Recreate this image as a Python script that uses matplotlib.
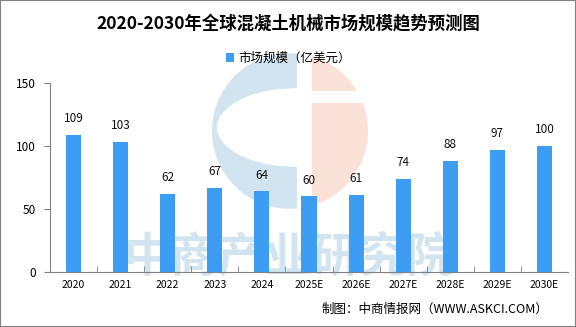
import matplotlib
matplotlib.use("Agg")
import matplotlib.pyplot as plt
from matplotlib.patches import Rectangle, PathPatch
from matplotlib.path import Path
import numpy as np

plt.rcParams['font.family'] = ['Noto Sans CJK SC', 'DejaVu Sans']

years = ["2020", "2021", "2022", "2023", "2024", "2025E", "2026E",
         "2027E", "2028E", "2029E", "2030E"]
market_size = [109, 103, 62, 67, 64, 60, 61, 74, 88, 97, 100]

title = "2020-2030年全球混凝土机械市场规模趋势预测图"
series_name = "市场规模（亿美元）"
source = "制图：中商情报网（WWW.ASKCI.COM）"

W, H = 576, 327
fig = plt.figure(figsize=(W / 100, H / 100), dpi=100)


def fx(x):
    return x / W


def fy(y):
    return 1 - y / H


def closed(pts):
    v = [(fx(x), fy(y)) for x, y in pts]
    return Path(v + [v[0]], [Path.MOVETO] + [Path.LINETO] * (len(v) - 1) + [Path.CLOSEPOLY])


# --- watermark logo (behind the axes) ---
cx, cy, r = 290, 131, 78
blue_wm = "#d2e4ef"
pink_wm = "#fbe2d8"

# blue "C": left part of circle with a half-ellipse cut out
cut_x = 297
half = np.sqrt(r ** 2 - (cut_x - cx) ** 2)
ys = np.linspace(cy - half, cy + half, 80)
outer = [(cut_x, ys[0])] + [(cx - np.sqrt(max(r ** 2 - (yy - cy) ** 2, 0)), yy) for yy in ys] + [(cut_x, ys[-1])]
fig.patches.append(PathPatch(closed(outer), transform=fig.transFigure, facecolor=blue_wm,
                             edgecolor="none", zorder=-3))
hy = np.linspace(167, 88, 60)
hole = [(cut_x + 1, 167)] + [(cut_x - 80 * np.sqrt(max(1 - ((yy - 127.5) / 39.5) ** 2, 0)), yy) for yy in hy] + [(cut_x + 1, 88)]
fig.patches.append(PathPatch(closed(hole), transform=fig.transFigure, facecolor="white",
                             edgecolor="none", zorder=-2))


# pink half disc right of the gap, with a horizontal band cut
def pink_part(y0, y1):
    pts = [(cx + np.sqrt(max(r ** 2 - (yy - cy) ** 2, 0)), yy) for yy in np.linspace(y0, y1, 60)]
    return closed(pts + [(312, y1), (312, y0)])


top_y = cy - np.sqrt(r ** 2 - (312 - cx) ** 2)
bot_y = cy + np.sqrt(r ** 2 - (312 - cx) ** 2)
for y0, y1 in [(top_y, 91), (103, bot_y)]:
    fig.patches.append(PathPatch(pink_part(y0, y1), transform=fig.transFigure,
                                 facecolor=pink_wm, edgecolor="none", zorder=-3))

fig.text(fx(289), fy(257), "中商产业研究院", fontsize=34, fontweight="bold",
         color=blue_wm, ha="center", va="center", zorder=-1)

# --- chart ---
ax = fig.add_axes([fx(50), fy(272), fx(568) - fx(50), fy(83) - fy(272)])
ax.set_facecolor("none")
x = np.arange(len(years))
bars = ax.bar(x, market_size, width=0.32, color="#3d9df3", label=series_name, zorder=3)
for xi, v in zip(x, market_size):
    ax.annotate(str(v), (xi, v), xytext=(0, 7), textcoords="offset points",
                ha="center", va="bottom", fontsize=8.5, color="#111111")

ax.set_xlim(-0.5, len(years) - 0.5)
ax.set_ylim(0, 150)
ax.set_yticks([0, 50, 100, 150])
ax.set_xticks(x)
ax.set_xticklabels(years, fontsize=7.5)
ax.set_xticks(np.arange(0.5, len(years) - 0.5, 1), minor=True)
ax.tick_params(axis="x", which="major", length=0, pad=6)
ax.tick_params(axis="x", which="minor", length=4, color="#808080", direction="in")
ax.tick_params(axis="y", length=4, color="#808080", labelsize=8.5, pad=6)
for s in ["top", "right"]:
    ax.spines[s].set_visible(False)
for s in ["left", "bottom"]:
    ax.spines[s].set_color("#808080")

fig.text(0.5, fy(23), title, fontsize=12.5, fontweight="bold", ha="center", va="center")
fig.legend(handles=[bars], labels=[series_name], loc="center", bbox_to_anchor=(fx(288), fy(58)),
           frameon=False, fontsize=9, handlelength=0.7, handleheight=0.7, handletextpad=0.3)
fig.text(fx(435), fy(309), source, fontsize=9, ha="center", va="center")

fig.patches.append(Rectangle((0, 0), 1, 1, transform=fig.transFigure, fill=False,
                             edgecolor="#808080", linewidth=1.5, zorder=5))

fig.savefig("out.png", dpi=100)
